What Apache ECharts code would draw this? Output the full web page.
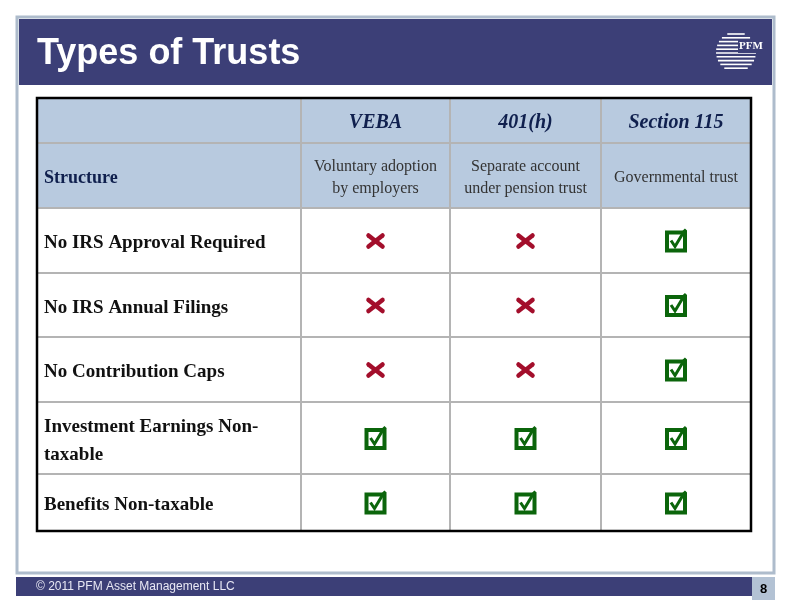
<!DOCTYPE html>
<html>
<head>
<meta charset="utf-8">
<script src="https://cdn.jsdelivr.net/npm/echarts@6/dist/echarts.min.js"></script>
<style>html,body{margin:0;padding:0;background:#fff}#c{width:792px;height:612px}</style>
</head>
<body>
<div id="c"></div>
<script>
// ---- data ----
const title = 'Types of Trusts';
const footerText = '\u00A9 2011 PFM Asset Management LLC';
const pageNumber = '8';
const columns = ['VEBA', '401(h)', 'Section 115'];
const structureLabel = 'Structure';
const structure = ['Voluntary adoption\nby employers', 'Separate account\nunder pension trust', 'Governmental trust'];
const features = ['No IRS Approval Required', 'No IRS Annual Filings', 'No Contribution Caps', 'Investment Earnings Non-\ntaxable', 'Benefits Non-taxable'];
// 1 = check (yes), 0 = cross (no)
const veba = [0, 0, 0, 1, 1];
const h401 = [0, 0, 0, 1, 1];
const sec115 = [1, 1, 1, 1, 1];

// ---- layout (table units) ----
const colEdges = [0, 264, 413, 564, 714];
const rowEdges = [0, 45, 110, 175, 239, 304, 376, 433];

const NAVY = '#3c3f77';
const HEAD_FILL = '#b8cadf';
const GRID = '#b4b4b4';

const marks = [veba, h401, sec115];
const cells = [];
const cellText = [];
// row 0: header
cells.push([0, 0]); cellText.push({t: '', kind: 'blank'});
columns.forEach((c, i) => { cells.push([i + 1, 0]); cellText.push({t: c, kind: 'colhead'}); });
// row 1: structure
cells.push([0, 1]); cellText.push({t: structureLabel, kind: 'structLabel'});
structure.forEach((s, i) => { cells.push([i + 1, 1]); cellText.push({t: s, kind: 'struct'}); });
// feature rows
features.forEach((f, r) => {
  cells.push([0, r + 2]); cellText.push({t: f, kind: 'feature'});
  marks.forEach((m, c) => { cells.push([c + 1, r + 2]); cellText.push({t: '', kind: m[r] ? 'check' : 'cross'}); });
});

function cellRect(api, c, r) {
  const p0 = api.coord([colEdges[c], rowEdges[r]]);
  const p1 = api.coord([colEdges[c + 1], rowEdges[r + 1]]);
  return {x: p0[0], y: p0[1], w: p1[0] - p0[0], h: p1[1] - p0[1]};
}

function renderCell(params, api) {
  const c = api.value(0), r = api.value(1);
  const rc = cellRect(api, c, r);
  const info = cellText[params.dataIndex];
  const children = [{
    type: 'rect',
    shape: {x: rc.x, y: rc.y, width: rc.w, height: rc.h},
    style: {fill: r < 2 ? HEAD_FILL : '#ffffff', stroke: GRID, lineWidth: 2}
  }];
  const cx = rc.x + rc.w / 2, cy = rc.y + rc.h / 2;
  if (info.kind === 'colhead') {
    children.push({type: 'text', style: {text: info.t, x: cx, y: cy + 2, align: 'center', verticalAlign: 'middle',
      font: 'italic bold 20px "Liberation Serif", "Times New Roman", serif', fill: '#10204e'}});
  } else if (info.kind === 'structLabel') {
    children.push({type: 'text', style: {text: info.t, x: rc.x + 7, y: cy + 3, align: 'left', verticalAlign: 'middle',
      font: 'bold 18px "Liberation Serif", "Times New Roman", serif', fill: '#10204e'}});
  } else if (info.kind === 'struct') {
    children.push({type: 'text', style: {text: info.t, x: cx, y: cy + 2, align: 'center', verticalAlign: 'middle',
      font: '16px "Liberation Serif", "Times New Roman", serif', fill: '#333333', lineHeight: 22}});
  } else if (info.kind === 'feature') {
    children.push({type: 'text', style: {text: info.t, x: rc.x + 7, y: cy + 3, align: 'left', verticalAlign: 'middle',
      font: 'bold 19px "Liberation Serif", "Times New Roman", serif', fill: '#111111', lineHeight: 28}});
  } else if (info.kind === 'check') {
    const gx = cx, gy = cy + 1;
    children.push({type: 'rect', shape: {x: gx - 9, y: gy - 9, width: 18, height: 18},
      style: {fill: '#ffffff', stroke: '#0b650b', lineWidth: 4}});
    children.push({type: 'polyline', shape: {points: [[gx - 5, gy - 1], [gx - 1, gy + 5], [gx + 8, gy - 10], [gx + 10, gy - 12]]},
      style: {stroke: '#0b650b', lineWidth: 3, fill: null}});
  } else if (info.kind === 'cross') {
    const gx = cx, gy = cy;
    children.push({type: 'line', shape: {x1: gx - 7, y1: gy - 5, x2: gx + 7, y2: gy + 6},
      style: {stroke: '#a30e2b', lineWidth: 4.5, lineCap: 'round'}});
    children.push({type: 'line', shape: {x1: gx - 7, y1: gy + 6, x2: gx + 7, y2: gy - 5},
      style: {stroke: '#a30e2b', lineWidth: 4.5, lineCap: 'round'}});
  }
  return {type: 'group', children: children};
}

function renderBorder(params, api) {
  const p0 = api.coord([colEdges[0], rowEdges[0]]);
  const p1 = api.coord([colEdges[colEdges.length - 1], rowEdges[rowEdges.length - 1]]);
  return {type: 'rect', shape: {x: p0[0], y: p0[1], width: p1[0] - p0[0], height: p1[1] - p0[1]},
    style: {fill: null, stroke: '#000000', lineWidth: 2.5}};
}

// logo stripes
const logo = [];
const lcx = 736, lcy = 52, lr = 20;
for (let i = 0; i < 11; i++) {
  const y = lcy - lr + 2 + i * 3.8;
  const dy = y - lcy;
  const half = Math.sqrt(Math.max(0, lr * lr - dy * dy));
  let x2 = lcx + half;
  if (i >= 2 && i <= 4) x2 = lcx + 2;
  logo.push({type: 'line', shape: {x1: lcx - half, y1: y, x2: x2, y2: y}, style: {stroke: '#ffffff', lineWidth: 1.6}, z: 10});
}

const chart = echarts.init(document.getElementById('c'), null, {renderer: 'canvas'});
chart.setOption({
  animation: false,
  backgroundColor: '#ffffff',
  grid: {left: 37, top: 98, width: 714, height: 433, show: false},
  xAxis: {type: 'value', min: 0, max: 714, show: false},
  yAxis: {type: 'value', min: 0, max: 433, inverse: true, show: false},
  graphic: [
    {type: 'rect', shape: {x: 17, y: 17, width: 757, height: 556}, style: {fill: '#ffffff', stroke: '#aebccc', lineWidth: 3}, z: -10},
    {type: 'rect', shape: {x: 19, y: 19, width: 753, height: 66}, style: {fill: NAVY}, z: -5},
    {type: 'text', style: {text: title, x: 37, y: 54, verticalAlign: 'middle', font: 'bold 36px "Liberation Sans", Arial, sans-serif', fill: '#ffffff'}, z: 10},
    ...logo,
    {type: 'rect', shape: {x: 738, y: 39, width: 24, height: 14}, style: {fill: NAVY}, z: 11},
    {type: 'text', style: {text: 'PFM', x: 739, y: 46, verticalAlign: 'middle', font: 'bold 11px "Liberation Serif", serif', fill: '#ffffff'}, z: 12},
    {type: 'rect', shape: {x: 16, y: 577, width: 736, height: 19}, style: {fill: NAVY}, z: -5},
    {type: 'text', style: {text: footerText, x: 36, y: 587, verticalAlign: 'middle', font: '12px "Liberation Sans", Arial, sans-serif', fill: '#e8e8f4'}, z: 10},
    {type: 'rect', shape: {x: 752, y: 577, width: 23, height: 23}, style: {fill: '#b3c2d4'}, z: -5},
    {type: 'text', style: {text: pageNumber, x: 763.5, y: 589, align: 'center', verticalAlign: 'middle', font: 'bold 13px "Liberation Sans", Arial, sans-serif', fill: '#000000'}, z: 10}
  ],
  series: [
    {type: 'custom', coordinateSystem: 'cartesian2d', renderItem: renderCell, data: cells, z: 2, silent: true},
    {type: 'custom', coordinateSystem: 'cartesian2d', renderItem: renderBorder, data: [[0, 0]], z: 5, silent: true}
  ]
});
</script>
</body>
</html>
